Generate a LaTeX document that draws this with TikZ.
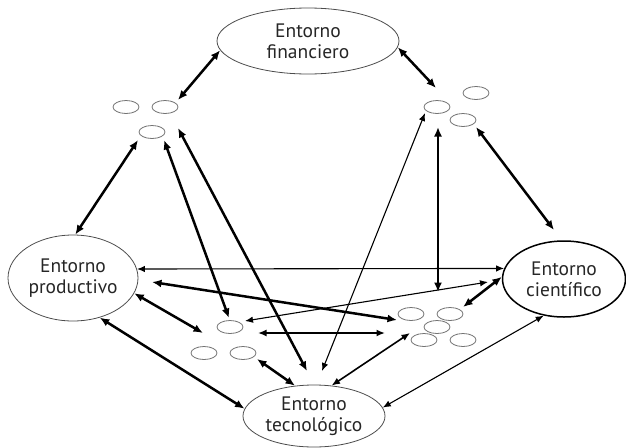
\documentclass[tikz,border=0pt]{standalone}
\usepackage{fontspec}
\setmainfont{PT Sans}
\usetikzlibrary{shapes.geometric,arrows.meta}
\tikzset{
  big/.style={draw=black!70, line width=0.8pt, ellipse, inner sep=0pt, align=center,
    font=\fontsize{19.5}{21}\selectfont, text=black!85},
  small/.style={draw=black!55, line width=0.8pt, ellipse, inner sep=0pt,
    minimum width=26pt, minimum height=13pt},
  thk/.style={line width=2.5pt, {Latex[length=9.5pt,width=8pt]}-{Latex[length=9.5pt,width=8pt]}},
  med/.style={line width=1.6pt, {Latex[length=8.5pt,width=7pt]}-{Latex[length=8.5pt,width=7pt]}},
  thn/.style={line width=1.1pt, {Latex[length=8pt,width=6.5pt]}-{Latex[length=8pt,width=6.5pt]}},
}
\begin{document}
\begin{tikzpicture}[x=1pt,y=-1pt]
\useasboundingbox (0,0) rectangle (626,447);
% big ellipses
\node[big, minimum width=182pt, minimum height=66pt] (fin) at (308,41) {Entorno\\financiero};
\node[big, minimum width=130pt, minimum height=86pt] (pro) at (73,278) {Entorno\\productivo};
\node[big, draw=black, line width=1.5pt, minimum width=123pt, minimum height=76pt] (sci) at (564,279) {Entorno\\científico};
\node[big, minimum width=142pt, minimum height=62pt] (tec) at (314,416) {Entorno\\tecnológico};
% small ellipses
\node[small] (tl1) at (126,107) {};
\node[small] (tl2) at (165,107) {};
\node[small] (tl3) at (152,132) {};
\node[small] (tr1) at (437,107) {};
\node[small] (tr2) at (476,93) {};
\node[small] (tr3) at (463,120) {};
\node[small] (bl1) at (230,327) {};
\node[small] (bl2) at (204,353) {};
\node[small] (bl3) at (243,353) {};
\node[small] (br1) at (411,314) {};
\node[small] (br2) at (450,314) {};
\node[small] (br3) at (437,327) {};
\node[small] (br4) at (424,340) {};
\node[small] (br5) at (463,340) {};
% free ends
\coordinate (a1) at (178,100);
\coordinate (a2) at (436,88);
\coordinate (a3) at (138,140);
\coordinate (a4s) at (164,140);
\coordinate (a4e) at (229,318);
\coordinate (a5s) at (178,128);
\coordinate (a5e) at (307,371);
\coordinate (a6s) at (425,113);
\coordinate (a6e) at (322,371);
\coordinate (a7s) at (438,127);
\coordinate (a7e) at (438,292);
\coordinate (a8s) at (476,127);
\coordinate (a8e) at (554,230);
\coordinate (a10s) at (152,282);
\coordinate (a10e) at (397,320);
\coordinate (a11s) at (245,321);
\coordinate (a11e) at (488,282);
\coordinate (a12e) at (203,333);
\coordinate (a13s) at (258,333);
\coordinate (a13e) at (385,333);
\coordinate (a14s) at (257,359);
\coordinate (a16s) at (410,333);
\coordinate (a18s) at (463,307);
% connectors
\draw[thk] (fin.186) -- (a1);
\draw[thk] (fin.-4) -- (a2);
\draw[thk] (pro.87) -- (a3);
\draw[thk] (a4s) -- (a4e);
\draw[thk] (a5s) -- (a5e);
\draw[thn] (a6s) -- (a6e);
\draw[thk] (a7s) -- (a7e);
\draw[thk] (a8s) -- (a8e);
\draw[thn] (pro.8) -- (sci.170);
\draw[thk] (a10s) -- (a10e);
\draw[thn] (a11s) -- (a11e);
\draw[thk] (pro.-14) -- (a12e);
\draw[med] (a13s) -- (a13e);
\draw[thk] (a14s) -- (tec.122);
\draw[thk] (pro.-56) -- (tec.174);
\draw[med] (a16s) -- (tec.60);
\draw[thn] (sci.241) -- (tec.7);
\draw[thk] (a18s) -- (sci.178);
\end{tikzpicture}
\end{document}
